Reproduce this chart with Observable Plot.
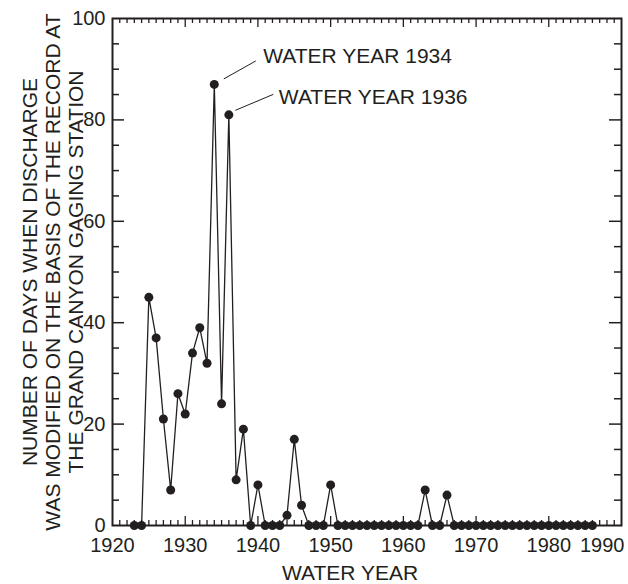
<!DOCTYPE html>
<html>
<head>
<meta charset="utf-8">
<script src="https://cdn.jsdelivr.net/npm/d3@7"></script>
<script src="https://cdn.jsdelivr.net/npm/@observablehq/plot@0.6"></script>
<style>
  html, body { margin: 0; padding: 0; background: #fff; }
</style>
</head>
<body>
<div id="chart"></div>
<script>
// Water years and number of days when discharge was modified
const years = [1923,1924,1925,1926,1927,1928,1929,1930,1931,1932,1933,1934,1935,1936,1937,1938,1939,1940,
  1941,1942,1943,1944,1945,1946,1947,1948,1949,1950,1951,1952,1953,1954,1955,1956,1957,1958,1959,1960,
  1961,1962,1963,1964,1965,1966,1967,1968,1969,1970,1971,1972,1973,1974,1975,1976,1977,1978,1979,1980,
  1981,1982,1983,1984,1985,1986];
const days = [0,0,45,37,21,7,26,22,34,39,32,87,24,81,9,19,0,8,
  0,0,0,2,17,4,0,0,0,8,0,0,0,0,0,0,0,0,0,0,
  0,0,7,0,0,6,0,0,0,0,0,0,0,0,0,0,0,0,0,0,
  0,0,0,0,0,0];

const xMajorTicks = [1920,1930,1940,1950,1960,1970,1980,1990];
const xMinorTicks = d3.range(1921, 1990).filter(d => d % 10 !== 0);
const yMajorTicks = [0,20,40,60,80,100];
const yMinorTicks = d3.range(5, 100, 5).filter(d => d % 20 !== 0);

const xTitle = "WATER YEAR";
const yTitleLines = ["NUMBER OF DAYS WHEN DISCHARGE", "WAS MODIFIED ON THE BASIS OF THE RECORD AT", "THE GRAND CANYON GAGING STATION"];

const annoYears = [1934, 1936];
const annoLabels = ["WATER YEAR 1934", "WATER YEAR 1936"];

const data = years.map((y, i) => ({year: y, days: days[i]}));
const annos = annoYears.map((y, i) => ({year: y, days: days[years.indexOf(y)], label: annoLabels[i]}));

const ink = "#231f20";
const font = "'Liberation Sans', Arial, Helvetica, sans-serif";

// leader line pixel offsets relative to the annotated point
const leaderOffsets = [
  {x1: 10, y1: -5, x2: 42, y2: -23},
  {x1: 7, y1: -4, x2: 45, y2: -20}
];

const leaders = (index, scales) => {
  const g = d3.create("svg:g").attr("stroke", ink).attr("stroke-width", 1);
  annos.forEach((a, i) => {
    const px = scales.x(a.year), py = scales.y(a.days);
    const o = leaderOffsets[i];
    g.append("line")
      .attr("x1", px + o.x1).attr("y1", py + o.y1)
      .attr("x2", px + o.x2).attr("y2", py + o.y2);
  });
  return g.node();
};

const chart = Plot.plot({
  width: 628,
  height: 584,
  marginLeft: 112,
  marginRight: 7,
  marginTop: 18,
  marginBottom: 59,
  style: {fontFamily: font, fontSize: "20px", color: ink, background: "#fff", overflow: "visible"},
  x: {domain: [1920, 1990]},
  y: {domain: [0, 100]},
  marks: [
    // tick labels
    Plot.axisX({anchor: "bottom", ticks: xMajorTicks.slice(0, -1), tickSize: 0, tickPadding: 12, tickFormat: d => String(d), label: null, fontSize: 20}),
    Plot.axisX({anchor: "bottom", ticks: xMajorTicks.slice(-1), tickSize: 0, tickPadding: 12, tickFormat: d => String(d), label: null, fontSize: 20, textAnchor: "end", dx: 3}),
    Plot.axisY({anchor: "left", ticks: yMajorTicks, tickSize: 0, tickPadding: 7, label: null, fontSize: 20}),
    // inward ticks
    Plot.tickX(xMajorTicks.slice(1, -1), {x: d => d, insetTop: 498, stroke: ink, strokeWidth: 1.3}),
    Plot.tickX(xMajorTicks.slice(1, -1), {x: d => d, insetBottom: 498, stroke: ink, strokeWidth: 1.3}),
    Plot.tickX(xMinorTicks, {x: d => d, insetTop: 502, stroke: ink, strokeWidth: 1.3}),
    Plot.tickX(xMinorTicks, {x: d => d, insetBottom: 502, stroke: ink, strokeWidth: 1.3}),
    Plot.tickY(yMajorTicks.slice(1, -1), {y: d => d, insetRight: 497, stroke: ink, strokeWidth: 1.5}),
    Plot.tickY(yMajorTicks.slice(1, -1), {y: d => d, insetLeft: 497, stroke: ink, strokeWidth: 1.5}),
    Plot.tickY(yMinorTicks, {y: d => d, insetRight: 502, stroke: ink, strokeWidth: 1.5}),
    Plot.tickY(yMinorTicks, {y: d => d, insetLeft: 502, stroke: ink, strokeWidth: 1.5}),
    // data
    Plot.line(data, {x: "year", y: "days", stroke: ink, strokeWidth: 1.3}),
    Plot.dot(data, {x: "year", y: "days", r: 4.5, fill: ink, stroke: "none"}),
    // annotations
    leaders,
    Plot.text(annos, {x: "year", y: "days", text: "label", textAnchor: "start", lineAnchor: "middle",
      dx: 49, dy: -28, fontSize: 21, fill: ink, filter: (d, i) => i === 0}),
    Plot.text(annos, {x: "year", y: "days", text: "label", textAnchor: "start", lineAnchor: "middle",
      dx: 50, dy: -18, fontSize: 21, fill: ink, filter: (d, i) => i === 1}),
    // axis titles
    Plot.text([xTitle], {frameAnchor: "bottom", text: d => d, dx: -17, dy: 48, lineAnchor: "middle", fontSize: 21, fill: ink}),
    Plot.text([yTitleLines.join("\n")], {frameAnchor: "left", text: d => d, rotate: -90, dx: -60, textAnchor: "middle", lineAnchor: "middle",
      lineHeight: 1.1, fontSize: 21, fill: ink}),
    Plot.frame({stroke: ink, strokeWidth: 2})
  ]
});

document.getElementById("chart").appendChild(chart);
</script>
</body>
</html>
